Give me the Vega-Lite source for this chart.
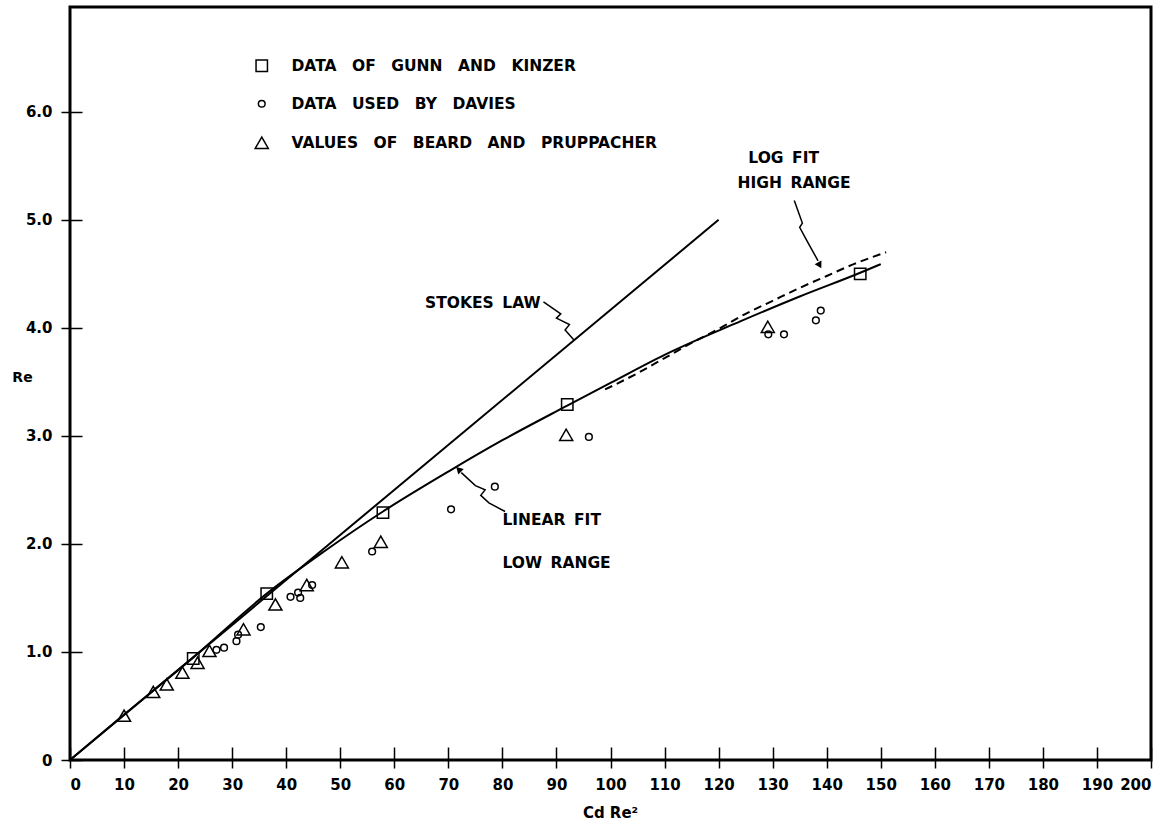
{
  "$schema": "https://vega.github.io/schema/vega-lite/v6.json",
  "width": 1081,
  "height": 753,
  "autosize": {"type": "none"},
  "padding": {"left": 70, "top": 7, "right": 23, "bottom": 69},
  "background": "white",
  "config": {
    "view": {"stroke": "black", "strokeWidth": 3},
    "font": "DejaVu Sans"
  },
  "datasets": {
    "points": [
      {"series": "gunn", "x": 22.8, "y": 0.94},
      {"series": "gunn", "x": 36.4, "y": 1.54},
      {"series": "gunn", "x": 57.9, "y": 2.29},
      {"series": "gunn", "x": 92.0, "y": 3.29},
      {"series": "gunn", "x": 146.2, "y": 4.50},
      {"series": "beard", "x": 10.0, "y": 0.41},
      {"series": "beard", "x": 15.4, "y": 0.63},
      {"series": "beard", "x": 17.9, "y": 0.70},
      {"series": "beard", "x": 20.8, "y": 0.81},
      {"series": "beard", "x": 23.6, "y": 0.90},
      {"series": "beard", "x": 25.8, "y": 1.01},
      {"series": "beard", "x": 32.1, "y": 1.21},
      {"series": "beard", "x": 38.0, "y": 1.44},
      {"series": "beard", "x": 43.8, "y": 1.62},
      {"series": "beard", "x": 50.3, "y": 1.83},
      {"series": "beard", "x": 57.5, "y": 2.02},
      {"series": "beard", "x": 91.8, "y": 3.01},
      {"series": "beard", "x": 129.1, "y": 4.01},
      {"series": "davies", "x": 27.1, "y": 1.02},
      {"series": "davies", "x": 28.5, "y": 1.04},
      {"series": "davies", "x": 30.8, "y": 1.10},
      {"series": "davies", "x": 31.1, "y": 1.16},
      {"series": "davies", "x": 35.3, "y": 1.23},
      {"series": "davies", "x": 40.8, "y": 1.51},
      {"series": "davies", "x": 42.2, "y": 1.55},
      {"series": "davies", "x": 42.6, "y": 1.50},
      {"series": "davies", "x": 44.8, "y": 1.62},
      {"series": "davies", "x": 55.9, "y": 1.93},
      {"series": "davies", "x": 70.5, "y": 2.32},
      {"series": "davies", "x": 78.6, "y": 2.53},
      {"series": "davies", "x": 96.0, "y": 2.99},
      {"series": "davies", "x": 129.2, "y": 3.94},
      {"series": "davies", "x": 132.1, "y": 3.94},
      {"series": "davies", "x": 138.0, "y": 4.07},
      {"series": "davies", "x": 138.9, "y": 4.16}
    ],
    "stokes": [
      {"x": 0, "y": 0},
      {"x": 120, "y": 5.0}
    ],
    "fit": [
      {"x": 0, "y": 0},
      {"x": 10, "y": 0.42},
      {"x": 22.8, "y": 0.95},
      {"x": 36.4, "y": 1.54},
      {"x": 47, "y": 1.93},
      {"x": 57.9, "y": 2.30},
      {"x": 70, "y": 2.67},
      {"x": 80, "y": 2.96},
      {"x": 92, "y": 3.28},
      {"x": 100, "y": 3.49},
      {"x": 110, "y": 3.75},
      {"x": 124, "y": 4.06},
      {"x": 135, "y": 4.29},
      {"x": 146.2, "y": 4.51},
      {"x": 150, "y": 4.59}
    ],
    "logfit": [
      {"x": 99, "y": 3.43},
      {"x": 105, "y": 3.58},
      {"x": 110, "y": 3.72},
      {"x": 115, "y": 3.86},
      {"x": 120, "y": 3.99},
      {"x": 125, "y": 4.13},
      {"x": 130, "y": 4.25},
      {"x": 135, "y": 4.37},
      {"x": 140, "y": 4.48},
      {"x": 145, "y": 4.59},
      {"x": 151, "y": 4.70}
    ],
    "arrows": [
      {"arrow": "stokes", "o": 1, "x": 87.6, "y": 4.24},
      {"arrow": "stokes", "o": 2, "x": 90.8, "y": 4.13},
      {"arrow": "stokes", "o": 3, "x": 90.0, "y": 4.09},
      {"arrow": "stokes", "o": 4, "x": 92.4, "y": 4.03},
      {"arrow": "stokes", "o": 5, "x": 91.6, "y": 3.98},
      {"arrow": "stokes", "o": 6, "x": 93.2, "y": 3.89},
      {"arrow": "linear", "o": 1, "x": 80.5, "y": 2.30},
      {"arrow": "linear", "o": 2, "x": 77.5, "y": 2.38},
      {"arrow": "linear", "o": 3, "x": 76.0, "y": 2.45},
      {"arrow": "linear", "o": 4, "x": 76.8, "y": 2.50},
      {"arrow": "linear", "o": 5, "x": 75.0, "y": 2.54},
      {"arrow": "linear", "o": 6, "x": 72.4, "y": 2.66},
      {"arrow": "log", "o": 1, "x": 134.0, "y": 5.18},
      {"arrow": "log", "o": 2, "x": 135.5, "y": 4.97},
      {"arrow": "log", "o": 3, "x": 135.0, "y": 4.93},
      {"arrow": "log", "o": 4, "x": 136.2, "y": 4.82},
      {"arrow": "log", "o": 5, "x": 138.4, "y": 4.62}
    ],
    "headsLog": [{"x": 138.7, "y": 4.58}],
    "headsLinear": [{"x": 71.9, "y": 2.69}],
    "labels": [
      {"text": "STOKES \u2009LAW", "x": 65.7, "y": 4.23},
      {"text": "LINEAR \u2009FIT", "x": 80.0, "y": 2.22},
      {"text": "LOW \u2009RANGE", "x": 80.0, "y": 1.82},
      {"text": "LOG \u2009FIT", "x": 125.5, "y": 5.57},
      {"text": "HIGH \u2009RANGE", "x": 123.5, "y": 5.34}
    ]
  },
  "layer": [
    {
      "data": {"name": "stokes"},
      "mark": {"type": "line", "color": "black", "strokeWidth": 2},
      "encoding": {
        "x": {"field": "x", "type": "quantitative", "scale": {"domain": [0, 200], "nice": false},
          "axis": {
            "values": [0,10,20,30,40,50,60,70,80,90,100,110,120,130,140,150,160,170,180,190,200],
            "domain": false, "grid": false, "tickSize": 21, "offset": -13, "tickColor": "black", "tickWidth": 1.5,
            "labelPadding": 9, "labelFont": "DejaVu Sans", "labelFontWeight": "bold", "labelFontSize": 15, "labelColor": "black",
            "title": "Cd Re²", "titleFont": "DejaVu Sans", "titleFontWeight": "bold", "titleFontSize": 15, "titleColor": "black",
            "titleY": 65, "titleBaseline": "middle", "titleX": 540
          }},
        "y": {"field": "y", "type": "quantitative", "scale": {"domain": [0, 6.97], "nice": false},
          "axis": {
            "values": [0,1,2,3,4,5,6],
            "labelExpr": "datum.value == 0 ? '0' : format(datum.value, '.1f')",
            "domain": false, "grid": false, "tickSize": 21, "offset": -12, "tickColor": "black", "tickWidth": 1.5,
            "labelPadding": 9, "labelFont": "DejaVu Sans", "labelFontWeight": "bold", "labelFontSize": 15, "labelColor": "black",
            "title": "Re", "titleFont": "DejaVu Sans", "titleFontWeight": "bold", "titleFontSize": 14, "titleColor": "black",
            "titleAngle": 0, "titleX": -60, "titleY": 370, "titleAlign": "center", "titleBaseline": "middle"
          }}
      }
    },
    {
      "data": {"name": "fit"},
      "mark": {"type": "line", "color": "black", "strokeWidth": 2, "interpolate": "monotone"},
      "encoding": {
        "x": {"field": "x", "type": "quantitative"},
        "y": {"field": "y", "type": "quantitative"}
      }
    },
    {
      "data": {"name": "logfit"},
      "mark": {"type": "line", "color": "black", "strokeWidth": 2, "strokeDash": [8, 5], "interpolate": "monotone"},
      "encoding": {
        "x": {"field": "x", "type": "quantitative"},
        "y": {"field": "y", "type": "quantitative"}
      }
    },
    {
      "data": {"name": "arrows"},
      "mark": {"type": "line", "color": "black", "strokeWidth": 1.5},
      "encoding": {
        "x": {"field": "x", "type": "quantitative"},
        "y": {"field": "y", "type": "quantitative"},
        "detail": {"field": "arrow"},
        "order": {"field": "o"}
      }
    },
    {
      "data": {"name": "headsLog"},
      "mark": {"type": "point", "shape": "triangle-down", "filled": true, "color": "black", "size": 60, "angle": 331, "opacity": 1},
      "encoding": {
        "x": {"field": "x", "type": "quantitative"},
        "y": {"field": "y", "type": "quantitative"}
      }
    },
    {
      "data": {"name": "headsLinear"},
      "mark": {"type": "point", "shape": "triangle-up", "filled": true, "color": "black", "size": 60, "angle": 315, "opacity": 1},
      "encoding": {
        "x": {"field": "x", "type": "quantitative"},
        "y": {"field": "y", "type": "quantitative"}
      }
    },
    {
      "data": {"name": "points"},
      "mark": {"type": "point", "filled": false, "color": "black", "strokeWidth": 1.5, "opacity": 1},
      "encoding": {
        "x": {"field": "x", "type": "quantitative"},
        "y": {"field": "y", "type": "quantitative"},
        "shape": {
          "field": "series", "type": "nominal",
          "scale": {"domain": ["gunn", "davies", "beard"], "range": ["square", "circle", "triangle-up"]},
          "legend": {
            "orient": "none", "legendX": 184, "legendY": 51, "padding": 0,
            "title": null,
            "labelExpr": "datum.value == 'gunn' ? 'DATA\u2002\u2002OF\u2002\u2002GUNN\u2002\u2002AND\u2002\u2002KINZER' : datum.value == 'davies' ? 'DATA\u2002\u2002USED\u2002\u2002BY\u2002\u2002DAVIES' : 'VALUES\u2002\u2002OF\u2002\u2002BEARD\u2002\u2002AND\u2002\u2002PRUPPACHER'",
            "labelFont": "DejaVu Sans", "labelFontWeight": "bold", "labelFontSize": 15.5, "labelColor": "black",
            "labelOffset": 22, "rowPadding": 21, "symbolStrokeWidth": 1.5, "symbolStrokeColor": "black", "symbolFillColor": "white", "labelLimit": 600
          }
        },
        "size": {
          "field": "series", "type": "nominal",
          "scale": {"type": "ordinal", "domain": ["gunn", "davies", "beard"], "range": [130, 45, 170]}
        }
      }
    },
    {
      "data": {"name": "labels"},
      "mark": {"type": "text", "align": "left", "baseline": "middle", "font": "DejaVu Sans", "fontWeight": "bold", "fontSize": 15.5, "color": "black"},
      "encoding": {
        "x": {"field": "x", "type": "quantitative"},
        "y": {"field": "y", "type": "quantitative"},
        "text": {"field": "text"}
      }
    }
  ]
}
